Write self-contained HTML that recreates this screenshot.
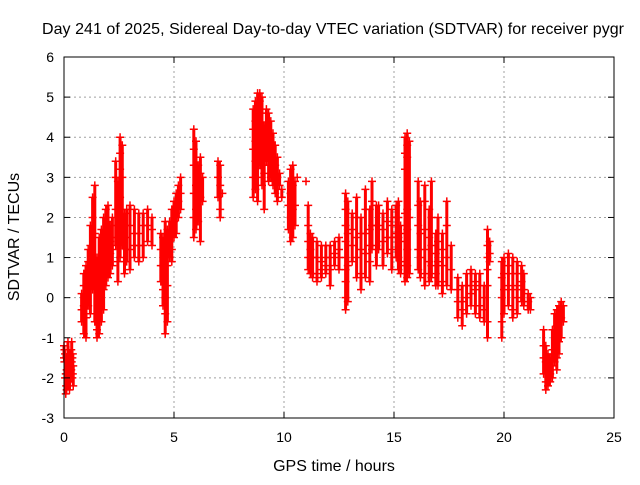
<!DOCTYPE html>
<html><head><meta charset="utf-8"><style>
body{margin:0;background:#fff}
svg text{font-family:"Liberation Sans",sans-serif;font-size:14px;fill:#000}
svg text.big{font-size:16px}
</style></head><body>
<svg id="c" width="640" height="480">
<rect width="640" height="480" fill="#fff"/>
<g id="grid"></g>
<g id="marks"></g>
<rect x="64" y="57" width="550" height="361" fill="none" stroke="#000" stroke-width="1"/>
<g id="ticks"></g>
<text class="big" x="333" y="34" text-anchor="middle" textLength="582">Day 241 of 2025, Sidereal Day-to-day VTEC variation (SDTVAR) for receiver pygr</text>
<text class="big" x="334" y="471" text-anchor="middle">GPS time / hours</text>
<text class="big" transform="translate(19,237) rotate(-90)" text-anchor="middle">SDTVAR / TECUs</text>
</svg>
<script>
const xTicks=[0,5,10,15,20,25];
const yTicks=[-3,-2,-1,0,1,2,3,4,5,6];
const times=[0,0.02,0.05,0.08,0.1,0.12,0.15,0.18,0.2,0.22,0.25,0.28,0.3,0.33,0.35,0.38,0.4,0.42,
0.8,0.9,1.0,1.1,1.2,1.3,1.4,1.5,1.6,1.7,1.8,1.9,2.0,2.1,2.2,2.35,2.45,2.55,2.65,2.75,2.85,3.0,3.2,3.4,3.6,3.8,4.0,
4.4,4.5,4.6,4.7,4.8,4.9,5.0,5.1,5.2,5.3,5.9,6.0,6.1,6.2,6.3,7.0,7.1,7.2,
8.6,8.7,8.8,8.9,9.0,9.1,9.2,9.3,9.4,9.5,9.6,9.7,9.8,9.9,10.2,10.3,10.4,10.5,10.6,11.0,
11.1,11.2,11.3,11.5,11.7,11.9,12.1,12.3,12.5,12.8,12.9,13.1,13.3,13.5,13.7,13.9,14.0,14.2,
14.3,14.5,14.7,14.9,15.1,15.2,15.3,15.5,15.6,15.7,16.1,16.2,16.4,16.6,16.7,16.9,17.0,17.2,17.4,17.6,
17.9,18.1,18.3,18.5,18.7,18.9,19.1,19.25,19.35,19.9,20.0,20.2,20.4,20.6,20.8,20.9,21.1,21.2,
21.8,21.9,22.0,22.1,22.2,22.3,22.4,22.5,22.6,22.7];
const values=[[-1.2,-1.5],[-1.6,-1.3],[-2.0,-1.4],[-2.4,-1.9],[-2.2,-1.5],[-1.8,-2.3],[-1.4,-2.0],[-1.1,-1.6],[-1.5,-2.1],[-2.0,-1.3],[-2.3,-1.8],[-2.1,-1.5],[-1.7,-2.0],[-1.3,-1.8],[-1.1,-1.6],[-1.5,-2.0],[-1.9,-1.4],[-2.2,-1.7],
[-0.3,0.1,-0.6],[0.3,-0.2,-0.9,0.6],[0.8,0,-0.5,-1.0],[1.2,0.5,-0.2,0.9],[1.8,1.3,0.3,-0.4],[2.5,2.0,1.0,0.2],[2.8,1.6,0.6,-0.6],[0.4,1.0,-1.0,-0.8],[1.5,0.9,-0.3,-0.9],[1.7,0.5,-0.6],[2.0,1.2,0.2,-0.3],[2.2,1.6,0.8,0.3],[2.3,1.0,0.5,1.9],[1.8,1.4,0.6,1.1],[2.0,1.5,1.2,0.8],
[3.4,3.0,2.2,1.3],[2.9,1.8,0.9,0.4],[4.0,3.6,3.2,2.5,1.7,1.0],[3.8,3.0,2.0,1.3],[1.5,0.9,0.6,2.1],[1.8,1.2,2.2,0.9],[2.3,1.8,1.2,0.7],[2.2,1.6,1.0,1.3],[2.1,1.6,0.9,1.3],[2.1,1.8,1.3,1.0],[2.2,1.8,1.4],[2.0,1.7,1.3],
[1.6,1.2,0.8,0.4],[1.5,0.8,0.2,-0.2],[1.9,1.0,0.0,-0.4,-0.9],[1.7,0.8,0.3,-0.6],[1.9,1.4,1.0],[2.2,1.7,1.2,0.9],[2.4,1.9,1.5],[2.6,2.1,1.6],[2.8,2.4,2.0],[3.0,2.6,2.2],
[4.2,3.7,3.3,2.6,2.0,1.5],[3.9,2.8,2.2,1.7],[3.3,2.6,1.9],[3.5,3.1,2.5,1.4],[3.0,2.4],[3.4,3.0,2.5],[3.3,2.8,2.2,2.0],[2.6],
[4.7,4.2,3.7,3.0,2.5],[4.9,4.4,3.9,3.4,2.7],[5.1,4.6,3.6,3.0,2.4],[5.1,4.9,4.0,3.3],[5.0,4.6,3.8,2.8],[4.3,3.7,3.1,2.2],[4.7,4.0,3.4],[4.6,4.0,3.3,2.9],[4.4,3.7,3.0],[4.1,3.5,2.8],[3.8,3.3,2.6],[3.5,3.0,2.4],[3.1,2.8],[2.7,2.5],
[2.9,2.3,1.7],[3.2,2.6,2.0,1.4],[3.3,2.8,2.2,1.5],[2.9,2.3,1.8],[3.0],[2.9],
[2.3,1.8,1.4,1.0,0.7],[1.6,1.2,0.6],[1.5,1.0,0.6,0.5],[1.4,1.0,0.6,0.4],[1.3,0.9,0.7,0.5],[1.3,1.0,0.8,0.6],[1.3,1.0,0.7,0.3],[1.4,1.1,0.8],[1.5,1.2,0.7,1.0],
[2.6,2.2,1.8,1.4,1.0,0.7,0.4,0.0,-0.3],[2.4,1.6,0.8,-0.1],[2.1,1.7,1.3,0.9],[2.5,2.0,1.5,1.0,0.5],[2.0,1.6,1.2,0.6,0.2],[2.7,2.2,1.6,1.1,0.5],[2.2,1.7,1.3,0.9,0.4],[2.9,2.4,1.8,1.2],[2.3,1.8,1.3,0.8],
[2.3,1.8,1.2],[2.1,1.7,1.4,0.8],[2.4,1.9,1.5,1.1],[2.2,1.8,1.5,1.2,0.7],[2.3,2.0,1.6,1.0],[2.4,2.0,1.5,1.0,0.7],[1.8,1.4,0.9,0.6],
[4.0,3.6,3.2,2.1,1.6,0.8,0.4],[4.1,3.8,3.5,2.2,1.7,1.2,0.8,0.5],[3.9,2.0,0.6],
[2.9,2.3,1.8,1.2,0.7],[2.4,1.6,1.0,0.5],[2.8,2.4,1.7,1.2,0.6,0.3],[2.2,1.5,0.9,0.4],[2.9,2.0,1.3,0.8,0.5],[1.6,1.1,0.6,0.3],[2.0,1.4,0.9,0.3],[1.6,1.2,0.8,0.4,0.1],[2.4,1.8,1.0,0.3],[1.3,0.7,0.2],
[0.5,0.2,-0.1,-0.5],[0.3,-0.1,-0.3,-0.7],[0.6,0.3,0.0,-0.4],[0.7,0.3,-0.2,0.1],[0.6,0.4,0.2,-0.4],[0.6,0.3,-0.2,-0.5],[0.3,0.0,-0.3,-0.6],[1.7,1.3,1.0,0.7,0.3,-0.6,-1.0],[1.4,1.1,0.9],
[0.9,0.5,0.0,-0.6,-1.0],[1.0,0.6,0.2,-0.4],[1.1,0.8,0.3,-0.2],[1.0,0.6,0.2,-0.3,-0.5],[0.9,0.6,0.3,0.0,-0.4],[0.8,0.4,0.2,-0.1],[0.6,0.2,-0.2],[0.1,-0.1,-0.3],[0.0,-0.3],
[-0.8,-1.2,-1.5,-1.9],[-1.2,-1.6,-2.1,-2.3],[-1.4,-1.8,-2.2],[-1.5,-1.9,-2.1],[-0.8,-1.3,-1.7,-2.0],[-0.4,-0.8,-1.3,-1.6],[-0.3,-0.7,-1.0,-1.5,-1.8],[-0.2,-0.6,-1.1,-1.4],[-0.1,-0.5,-1.0],[-0.2,-0.6]];

const NS='http://www.w3.org/2000/svg';
const X0=64,X1=614,Y0=418,Y1=57;
function xs(t){return X0+(t-0)/(25-0)*(X1-X0);}
function ys(v){return Y0-(v+3)/(6+3)*(Y0-Y1);}
function mk(tag,attrs,parent){const e=document.createElementNS(NS,tag);for(const k in attrs)e.setAttribute(k,attrs[k]);parent.appendChild(e);return e;}
const grid=document.getElementById('grid'),ticks=document.getElementById('ticks'),marks=document.getElementById('marks');
xTicks.forEach(t=>{const x=xs(t);
 if(t>0&&t<25){const g=mk('line',{x1:x,x2:x,y1:Y0,y2:Y1,stroke:'#a0a0a0','stroke-dasharray':'2,3'},grid);
 
 }
 mk('line',{x1:x,x2:x,y1:Y0,y2:Y0-6,stroke:'#000'},ticks);
 mk('line',{x1:x,x2:x,y1:Y1,y2:Y1+6,stroke:'#000'},ticks);
 const l=mk('text',{x:x,y:Y0+24,'text-anchor':'middle'},ticks);l.textContent=t;
 
 });
yTicks.forEach(v=>{const y=ys(v);
 if(v>-3&&v<6){const g=mk('line',{x1:X0,x2:X1,y1:y,y2:y,stroke:'#a0a0a0','stroke-dasharray':'2,3'},grid);
 
 }
 mk('line',{x1:X0,x2:X0+6,y1:y,y2:y,stroke:'#000'},ticks);
 mk('line',{x1:X1,x2:X1-6,y1:y,y2:y,stroke:'#000'},ticks);
 const l=mk('text',{x:X0-10,y:y+5,'text-anchor':'end'},ticks);l.textContent=v;
 
 });
times.forEach((t,i)=>{const x=xs(t);const vs=values[i];
 const mn=Math.min(...vs),mx=Math.max(...vs);
 const seg=mk('line',{x1:x,x2:x,y1:ys(mx),y2:ys(mn),stroke:'#ff0000','stroke-width':3},marks);
 
 
 vs.forEach(v=>{const y=ys(v);
  const p=mk('path',{d:`M${x-4},${y}h8M${x},${y-4}v8`,stroke:'#ff0000','stroke-width':1.5,fill:'none'},marks);
  
  });});
</script>
</body></html>
